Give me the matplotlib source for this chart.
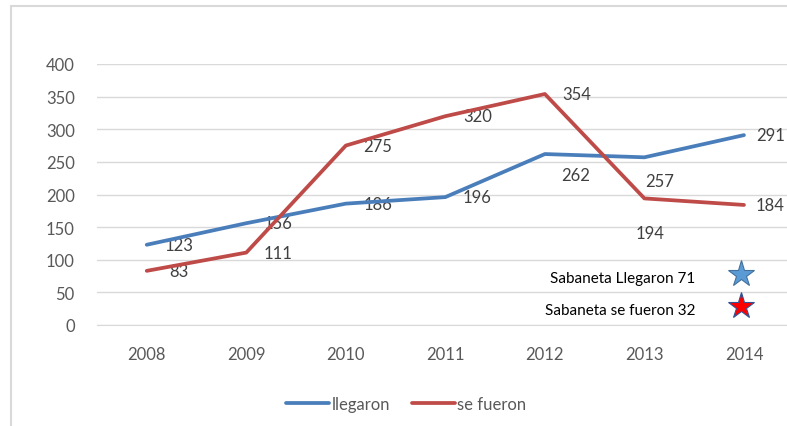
import matplotlib
matplotlib.use("Agg")
import matplotlib.pyplot as plt
from matplotlib.patches import Rectangle

years = [2008, 2009, 2010, 2011, 2012, 2013, 2014]
llegaron = [123, 156, 186, 196, 262, 257, 291]
se_fueron = [83, 111, 275, 320, 354, 194, 184]
y_ticks = [0, 50, 100, 150, 200, 250, 300, 350, 400]
notes = ["Sabaneta Llegaron 71", "Sabaneta se fueron 32"]

plt.rcParams['font.family'] = ['Lato', 'DejaVu Sans']

fig = plt.figure(figsize=(7.87, 4.27), dpi=100)
fig.patches.append(Rectangle((11/787, -0.05), 1.2, 1 - 7/427 + 0.05, transform=fig.transFigure,
                             fill=False, edgecolor='#d9d9d9', linewidth=1.5))

ax = fig.add_axes([97/787, 1 - 326/427, 1 - 97/787, 261/427])
blue = '#4a7ebb'
red = '#be4b48'
ax.plot(years, llegaron, color=blue, lw=2.7, label='llegaron', solid_capstyle='round', zorder=3)
ax.plot(years, se_fueron, color=red, lw=2.7, label='se fueron', solid_capstyle='round', zorder=3)

ax.set_xlim(2007.5, 2014 + (787 - 744) / 99.4)
ax.set_ylim(0, 400)
ax.set_yticks(y_ticks)
ax.set_xticks(years)
ax.grid(axis='y', color='#d9d9d9', lw=1)
ax.set_axisbelow(True)
for s in ['top', 'right', 'left']:
    ax.spines[s].set_visible(False)
ax.spines['bottom'].set_color('#d9d9d9')
ax.tick_params(length=0, labelsize=12, labelcolor='#595959')
ax.tick_params(axis='y', pad=16)
ax.tick_params(axis='x', pad=15)

# data labels (offset in points to the right; a few moved manually)
lab_off_l = {2012: (22, -15), 2013: (11, -17), 2014: (19, 0)}
lab_off_f = {2013: (4, -25), 2014: (19, 0)}
for x, v in zip(years, llegaron):
    dx, dy = lab_off_l.get(x, (23, 0))
    ax.annotate(str(v), (x, v), xytext=(dx, dy), textcoords='offset points',
                ha='center', va='center', fontsize=12, color='#404040', zorder=2)
for x, v in zip(years, se_fueron):
    dx, dy = lab_off_f.get(x, (23, 0))
    ax.annotate(str(v), (x, v), xytext=(dx, dy), textcoords='offset points',
                ha='center', va='center', fontsize=12, color='#404040', zorder=2)

# star notes
star_y = [78, 29]
star_fc = ['#5b9bd5', '#ff0000']
star_ec = ['#41719c', '#2f5597']
for txt, yy, fc, ec in zip(notes, star_y, star_fc, star_ec):
    ax.plot([2013.97], [yy], marker='*', markersize=20, markerfacecolor=fc,
            markeredgecolor=ec, markeredgewidth=0.8, zorder=4, clip_on=False)
    ax.annotate(txt, (2013.97, yy), xytext=(-33, -3), textcoords='offset points',
                ha='right', va='center', fontsize=11, color='black')

leg = fig.legend(loc='center', bbox_to_anchor=(406/787, 1 - 405/427), ncol=2, frameon=False,
                 fontsize=12, handlelength=2.6, handletextpad=0.15, columnspacing=1.3)
for t in leg.get_texts():
    t.set_color('#595959')

fig.savefig('out.png', dpi=100)
